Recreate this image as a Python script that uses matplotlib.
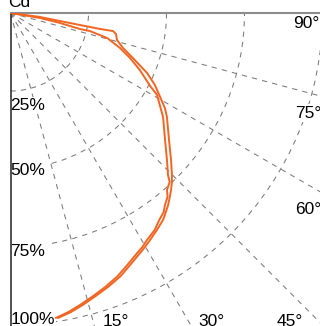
import numpy as np
import matplotlib
matplotlib.use('Agg')
import matplotlib.pyplot as plt

plt.rcParams['font.family'] = ['Liberation Sans', 'DejaVu Sans']

# Luminous intensity curves (angle in degrees from nadir, relative intensity %)
angle_a = [84.0, 82.3, 80.8, 80.2, 79.9, 80.0, 78.7, 75.8, 72.7, 69.8, 66.3, 63.5, 60.7,
           58.4, 56.4, 51.3, 47.5, 44.9, 43.7, 42.2, 40.9, 39.4, 38.0, 36.4, 34.0, 31.6,
           29.9, 28.4, 25.4, 22.6, 19.6, 16.8, 13.9, 11.4, 8.9]
inten_a = [0.0, 9.5, 16.1, 22.6, 29.1, 33.4, 34.5, 35.2, 37.8, 41.8, 47.8, 51.7, 55.0,
           58.1, 60.2, 65.1, 69.8, 73.3, 74.9, 76.6, 78.0, 79.6, 80.9, 82.4, 83.9, 85.4,
           86.5, 87.4, 89.4, 91.5, 93.2, 94.7, 96.4, 97.8, 98.9]

angle_b = [84.0, 80.4, 78.6, 77.0, 77.2, 75.5, 72.3, 69.4, 66.2, 62.4, 60.8, 55.7, 50.6,
           46.8, 44.2, 43.3, 41.5, 40.5, 38.8, 37.6, 35.7, 33.6, 31.0, 29.4, 27.8, 24.9,
           22.1, 19.1, 16.3, 13.4, 11.0, 8.5]
inten_b = [0.0, 9.6, 16.2, 22.9, 26.1, 32.0, 36.8, 40.9, 45.3, 50.5, 53.8, 59.2, 64.1,
           68.8, 72.4, 74.4, 75.7, 77.5, 79.0, 80.5, 81.7, 83.5, 84.9, 86.1, 87.0, 89.0,
           91.1, 92.9, 94.5, 96.2, 97.6, 98.8]

r_ticks = [25, 50, 75, 100]
r_labels = ['25%', '50%', '75%', '100%']
theta_ticks = [15, 30, 45, 60, 75]
theta_labels = ['15°', '30°', '45°', '60°', '75°', '90°']

W, H = 320, 326
ORIGIN = (10.5, 13)
R100 = 312
RMAX = 150
size = R100 * RMAX / 100

fig = plt.figure(figsize=(W / 100, H / 100), dpi=100)
ax = fig.add_axes([ORIGIN[0] / W, (H - ORIGIN[1] - size) / H, size / W, size / H],
                  projection='polar')
ax.set_theta_zero_location('S')
ax.set_theta_direction(1)
ax.set_thetamin(0)
ax.set_thetamax(90)
ax.set_rlim(0, RMAX)

ax.set_xticks(np.radians(theta_ticks))
ax.set_xticklabels([])
ax.set_yticks(r_ticks)
ax.set_yticklabels([])
ax.tick_params(length=0)
ax.grid(True, color='#7a7a7a', linestyle=(0, (5, 5)), linewidth=0.75)

ax.spines['polar'].set_visible(False)
ax.spines['inner'].set_visible(False)
ax.spines['start'].set_color('#333333')
ax.spines['start'].set_linewidth(1.2)
ax.spines['end'].set_color('#8c8c8c')
ax.spines['end'].set_linewidth(1.5)

orange = '#f26522'
ax.plot(np.radians(angle_a), inten_a, color=orange, lw=1.4, zorder=5,
        solid_joinstyle='round')
ax.plot(np.radians(angle_b), inten_b, color=orange, lw=1.4, zorder=5,
        solid_joinstyle='round')

# tick labels, placed at the picture edges (above grid, below spines)
box = dict(facecolor='white', edgecolor='none', pad=1)
fs = 12.5


def label(x, yb, s):
    ax.text(x / W, 1 - yb / H, s, transform=fig.transFigure, fontsize=fs,
            ha='left', va='baseline', bbox=box, zorder=2.2, clip_on=False)


r_label_base = [110, 175, 256.5, 324]
for lab, yb in zip(r_labels, r_label_base):
    label(10.5, yb, lab)

theta_label_pos = [(103, 326), (198, 326), (277, 326), (295, 213.5), (295, 117.5), (293, 28.5)]
for lab, (xl, yb) in zip(theta_labels, theta_label_pos):
    label(xl, yb, lab)

fig.text(8 / W, 1 - 7 / H, 'Cd', fontsize=fs, ha='left', va='baseline')

fig.savefig('out.png', dpi=100, facecolor='white')
